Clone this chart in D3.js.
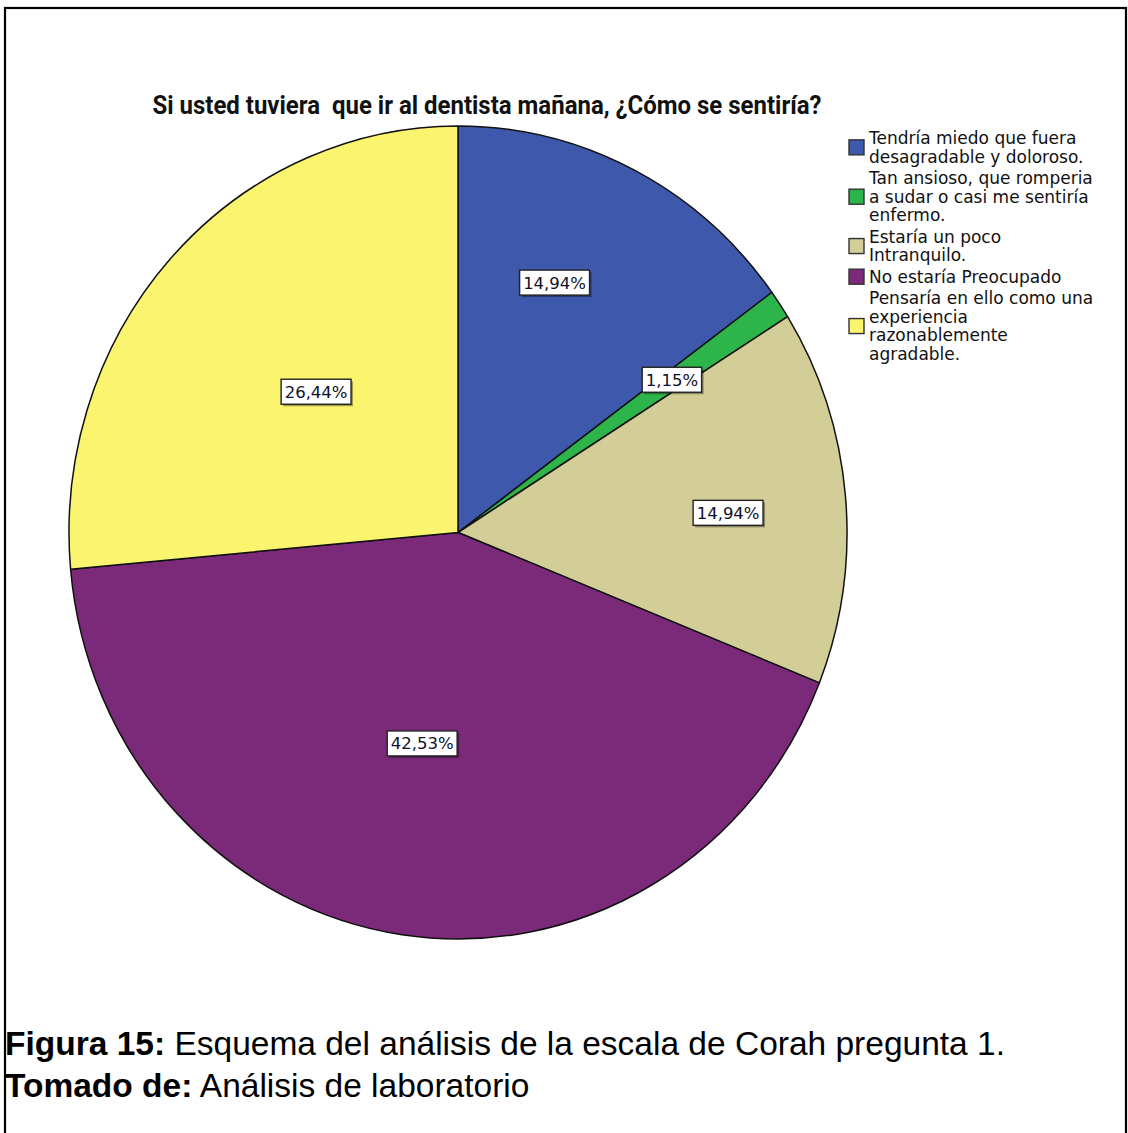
<!DOCTYPE html>
<html>
<head>
<meta charset="utf-8">
<script src="https://cdn.jsdelivr.net/npm/d3@7"></script>
<style>
  html, body { margin: 0; padding: 0; background: #fff; }
  svg { display: block; }
  .keep-spaces { white-space: pre; }
</style>
</head>
<body>
<svg id="chart" width="1128" height="1133"></svg>
<script>
// Survey answers (Corah scale, question 1) and their shares in percent
const categories = [
  "Tendría miedo que fuera\ndesagradable y doloroso.",
  "Tan ansioso, que romperia\na sudar o casi me sentiría\nenfermo.",
  "Estaría un poco\nIntranquilo.",
  "No estaría Preocupado",
  "Pensaría en ello como una\nexperiencia\nrazonablemente\nagradable."
];
const percents = [14.94, 1.15, 14.94, 42.53, 26.44];
const percentLabels = ["14,94%", "1,15%", "14,94%", "42,53%", "26,44%"];
const colors = ["#3e58ab", "#2db44a", "#d3cd97", "#7b2979", "#fbf46e"];

const titleText = "Si usted tuviera  que ir al dentista mañana, ¿Cómo se sentiría?";
const captionLines = [
  { bold: "Figura 15:", rest: " Esquema del análisis de la escala de Corah pregunta 1." },
  { bold: "Tomado de:", rest: " Análisis de laboratorio" }
];

// Layout
const cx = 458, cy = 532.5;
const rx = 389, ry = 406.5;   // the pie is drawn slightly taller than wide
// where each value label sits inside its slice: fraction of radius, angle nudge (deg)
const labelPlacement = [
  { frac: 0.663, nudge: -4.9 },
  { frac: 0.666, nudge: -0.2 },
  { frac: 0.696, nudge: 1.2 },
  { frac: 0.527, nudge: 1.8 },
  { frac: 0.503, nudge: 1.1 }
];

const svg = d3.select("#chart");

// outer frame
svg.append("rect")
  .attr("x", 5).attr("y", 8)
  .attr("width", 1121).attr("height", 1140)
  .attr("fill", "none").attr("stroke", "#000").attr("stroke-width", 2.2);

// title
svg.append("text")
  .attr("class", "keep-spaces")
  .attr("x", 487).attr("y", 114)
  .attr("text-anchor", "middle")
  .attr("font-family", "Roboto, 'Liberation Sans', sans-serif")
  .attr("font-weight", "bold")
  .attr("font-size", 26)
  .attr("textLength", 669)
  .attr("lengthAdjust", "spacingAndGlyphs")
  .attr("fill", "#111")
  .text(titleText);

// pie
const pie = d3.pie().sort(null).value(d => d)(percents);
const arc = d3.arc().innerRadius(0).outerRadius(rx);

const pieG = svg.append("g")
  .attr("transform", `translate(${cx},${cy}) scale(1,${ry / rx})`);

pieG.selectAll("path.slice")
  .data(pie)
  .join("path")
  .attr("class", "slice")
  .attr("d", arc)
  .attr("fill", (d, i) => colors[i])
  .attr("stroke", "#111")
  .attr("stroke-width", 1.5)
  .attr("vector-effect", "non-scaling-stroke")
  .attr("stroke-linejoin", "round");

// value labels in boxes
const labelG = svg.append("g")
  .attr("font-family", "'DejaVu Sans', sans-serif")
  .attr("font-size", 16.5);

pie.forEach((d, i) => {
  const p = labelPlacement[i];
  const a = (d.startAngle + d.endAngle) / 2 + p.nudge * Math.PI / 180;
  const r = rx * p.frac;
  const x = cx + r * Math.sin(a);
  const y = cy - r * Math.cos(a) * (ry / rx);
  const g = labelG.append("g").attr("transform", `translate(${x},${y})`);
  const t = g.append("text")
    .attr("text-anchor", "middle")
    .attr("dy", "0.36em")
    .attr("fill", "#10102a")
    .text(percentLabels[i]);
  const bw = t.node().getComputedTextLength() + 7;
  const bh = 25;
  g.insert("rect", "text")
    .attr("x", -bw / 2 + 2).attr("y", -bh / 2 + 2)
    .attr("width", bw).attr("height", bh)
    .attr("fill", "rgba(0,0,0,0.35)");
  g.insert("rect", "text")
    .attr("x", -bw / 2).attr("y", -bh / 2)
    .attr("width", bw).attr("height", bh)
    .attr("fill", "#fff")
    .attr("stroke", "#222").attr("stroke-width", 1.4);
});

// legend
const legendG = svg.append("g")
  .attr("font-family", "'DejaVu Sans', sans-serif")
  .attr("font-size", 17)
  .attr("fill", "#111");

const lineH = 18.7, entryGap = 2.6;
let yBase = 144;
categories.forEach((c, i) => {
  const lines = c.split("\n");
  const mid = yBase - 6 + (lines.length - 1) * lineH / 2;
  legendG.append("rect")
    .attr("x", 849).attr("y", mid - 7.5)
    .attr("width", 15).attr("height", 15)
    .attr("fill", colors[i])
    .attr("stroke", "#333").attr("stroke-width", 1.4);
  lines.forEach((ln, j) => {
    legendG.append("text")
      .attr("x", 869).attr("y", yBase + j * lineH)
      .text(ln);
  });
  yBase += lines.length * lineH + entryGap;
});

// caption
captionLines.forEach((c, i) => {
  const t = svg.append("text")
    .attr("x", 5).attr("y", 1055 + i * 42)
    .attr("font-family", "'Liberation Sans', Arial, sans-serif")
    .attr("font-size", 33.5)
    .attr("fill", "#000");
  t.append("tspan").attr("font-weight", "bold").text(c.bold);
  t.append("tspan").text(c.rest);
});
</script>
</body>
</html>
